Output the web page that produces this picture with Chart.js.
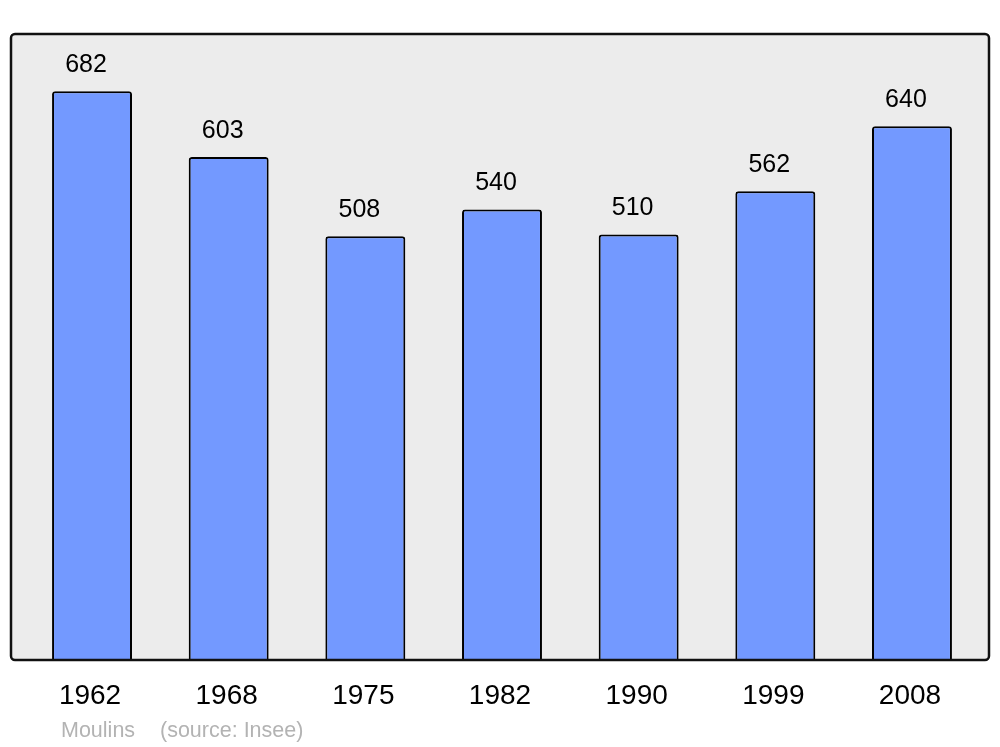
<!DOCTYPE html>
<html>
<head>
<meta charset="utf-8">
<script src="https://cdn.jsdelivr.net/npm/chart.js@4"></script>
<style>
html,body{margin:0;padding:0;background:#fff;}
canvas{display:block;}
</style>
</head>
<body>
<canvas id="c" width="1000" height="747"></canvas>
<script>
const years = ["1962","1968","1975","1982","1990","1999","2008"];
const population = [682,603,508,540,510,562,640];
const townName = "Moulins";
const sourceText = "(source: Insee)";

const FONT = "'Liberation Sans', Arial, sans-serif";

const decor = {
  id: 'decor',
  beforeDraw(chart) {
    const ctx = chart.ctx;
    ctx.save();
    ctx.fillStyle = '#ececec';
    ctx.beginPath();
    ctx.roundRect(11, 34, 978, 626, 4);
    ctx.fill();
    ctx.restore();
  },
  afterDatasetsDraw(chart) {
    const ctx = chart.ctx;
    const meta = chart.getDatasetMeta(0);
    const xs = chart.scales.x;
    ctx.save();
    ctx.strokeStyle = '#111';
    ctx.lineWidth = 2.5;
    ctx.beginPath();
    ctx.roundRect(11, 34, 978, 626, 4);
    ctx.stroke();
    ctx.fillStyle = '#000';
    ctx.font = '25px ' + FONT;
    ctx.textAlign = 'center';
    ctx.textBaseline = 'middle';
    meta.data.forEach((bar, i) => {
      ctx.fillText(String(population[i]), bar.x - 6, bar.y - 26);
    });
    ctx.font = '28px ' + FONT;
    years.forEach((y, i) => {
      ctx.fillText(y, xs.getPixelForValue(i) - 2, 696);
    });
    ctx.fillStyle = '#b3b3b3';
    ctx.font = '21.5px ' + FONT;
    ctx.textAlign = 'left';
    ctx.fillText(townName, 61, 731);
    ctx.fillText(sourceText, 160, 731);
    ctx.restore();
  }
};

new Chart(document.getElementById('c'), {
  type: 'bar',
  data: {
    labels: years,
    datasets: [{
      data: population,
      backgroundColor: '#7399ff',
      borderColor: '#000',
      borderWidth: 2,
      borderSkipped: 'bottom',
      borderRadius: {topLeft: 3, topRight: 3, bottomLeft: 0, bottomRight: 0},
      barPercentage: 0.585,
      categoryPercentage: 1.0
    }]
  },
  options: {
    responsive: false,
    animation: false,
    devicePixelRatio: 1,
    layout: { padding: { left: 23.7, right: 19.7, top: 34, bottom: 87 } },
    plugins: { legend: { display: false }, tooltip: { enabled: false } },
    scales: {
      x: { display: false },
      y: { display: false, min: 0, max: 750.5 }
    }
  },
  plugins: [decor]
});
</script>
</body>
</html>
